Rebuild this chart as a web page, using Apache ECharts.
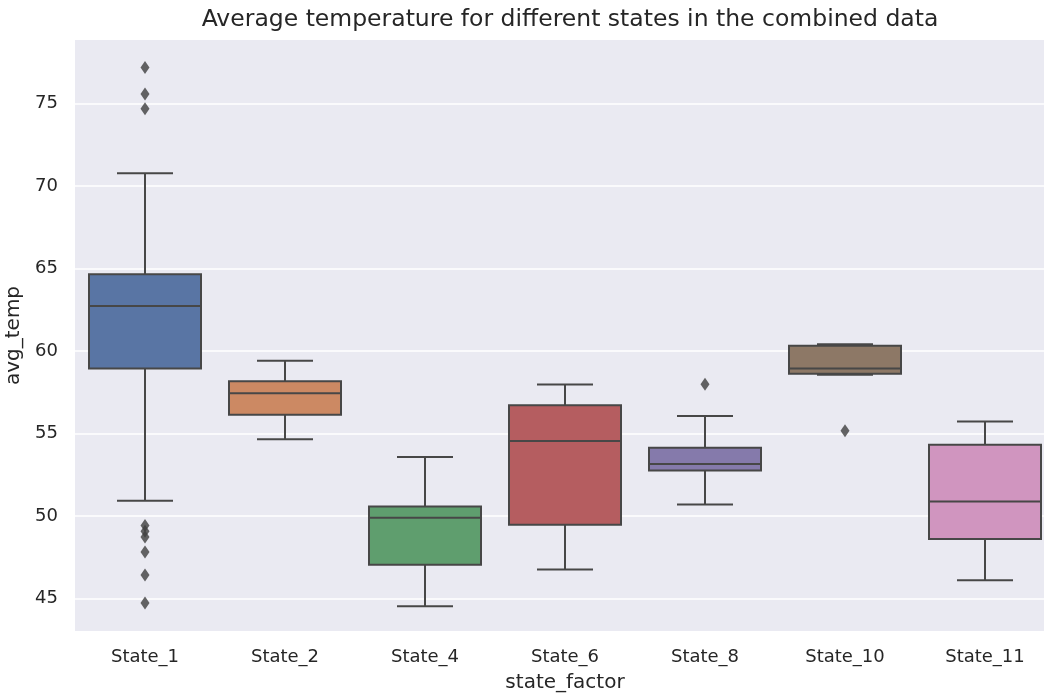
<!DOCTYPE html>
<html>
<head>
<meta charset="utf-8">
<title>Average temperature by state</title>
<script src="https://cdn.jsdelivr.net/npm/echarts@6/dist/echarts.min.js"></script>
<style>
  html, body { margin: 0; padding: 0; background: #ffffff; overflow: hidden; }
  #chart { width: 1044px; height: 693px; }
</style>
</head>
<body>
<div id="chart"></div>
<script>
// Box statistics per state (avg_temp)
const categories  = ['State_1', 'State_2', 'State_4', 'State_6', 'State_8', 'State_10', 'State_11'];
const whiskerLow  = [50.92, 54.65, 44.53, 46.76, 50.69, 58.55, 46.10];
const q1          = [58.93, 56.14, 47.04, 49.47, 52.75, 58.62, 48.60];
const median      = [62.72, 57.43, 49.89, 54.54, 53.15, 58.93, 50.87];
const q3          = [64.64, 58.16, 50.58, 56.71, 54.14, 60.32, 54.32];
const whiskerHigh = [70.76, 59.41, 53.57, 57.96, 56.05, 60.40, 55.73];

// Points beyond the whiskers, per state
const outliers = {
  State_1: [77.18, 75.57, 74.68, 49.42, 49.08, 48.72, 47.81, 46.42, 44.72],
  State_8: [57.98],
  State_10: [55.16]
};

const boxColors = ['#5975a4', '#cc8963', '#5f9e6e', '#b55d60', '#857aab', '#8d7866', '#d095bf'];
const edgeColor = '#474747';
const textColor = '#262626';

const boxData = categories.map((c, i) => [i, whiskerLow[i], q1[i], median[i], q3[i], whiskerHigh[i]]);
const outlierData = [];
Object.keys(outliers).forEach(name => {
  const idx = categories.indexOf(name);
  outliers[name].forEach(v => outlierData.push([idx, v]));
});

// Box with half-width whisker caps, placed through the axes' scales
function renderBox(params, api) {
  const i = api.value(0);
  const band = api.size([1, 0])[0];
  const halfW = band * 0.4;
  const capHalf = halfW / 2;
  const pLow = api.coord([i, api.value(1)]);
  const pQ1 = api.coord([i, api.value(2)]);
  const pMed = api.coord([i, api.value(3)]);
  const pQ3 = api.coord([i, api.value(4)]);
  const pHigh = api.coord([i, api.value(5)]);
  const cx = pQ1[0];
  const lineStyle = { stroke: edgeColor, lineWidth: 2, fill: null };
  return {
    type: 'group',
    children: [
      { type: 'line', shape: { x1: cx, y1: pLow[1], x2: cx, y2: pQ1[1] }, style: lineStyle },
      { type: 'line', shape: { x1: cx, y1: pQ3[1], x2: cx, y2: pHigh[1] }, style: lineStyle },
      { type: 'line', shape: { x1: cx - capHalf, y1: pLow[1], x2: cx + capHalf, y2: pLow[1] }, style: lineStyle },
      { type: 'line', shape: { x1: cx - capHalf, y1: pHigh[1], x2: cx + capHalf, y2: pHigh[1] }, style: lineStyle },
      {
        type: 'rect',
        shape: { x: cx - halfW, y: pQ3[1], width: halfW * 2, height: pQ1[1] - pQ3[1] },
        style: { fill: boxColors[i], stroke: edgeColor, lineWidth: 2 }
      },
      { type: 'line', shape: { x1: cx - halfW, y1: pMed[1], x2: cx + halfW, y2: pMed[1] }, style: lineStyle }
    ]
  };
}

const chart = echarts.init(document.getElementById('chart'), null, { renderer: 'canvas' });
chart.setOption({
  animation: false,
  backgroundColor: '#ffffff',
  textStyle: { fontFamily: 'DejaVu Sans' },
  title: {
    text: 'Average temperature for different states in the combined data',
    left: 565,
    textAlign: 'center',
    top: 3,
    textStyle: { fontFamily: 'DejaVu Sans', fontSize: 23.5, fontWeight: 'normal', color: textColor }
  },
  grid: {
    left: 75, right: -11, top: 40, bottom: 62,
    outerBoundsMode: 'none',
    containLabel: false,
    show: true, backgroundColor: '#eaeaf2', borderWidth: 0
  },
  xAxis: {
    type: 'category',
    data: categories,
    boundaryGap: true,
    name: 'state_factor',
    nameLocation: 'middle',
    nameGap: 42,
    nameTextStyle: { fontFamily: 'DejaVu Sans', fontSize: 20, color: textColor },
    axisLine: { show: false },
    axisTick: { show: false },
    splitLine: { show: false },
    axisLabel: { fontFamily: 'DejaVu Sans', fontSize: 18, color: textColor, margin: 17 }
  },
  yAxis: {
    type: 'value',
    min: 43.03,
    max: 78.84,
    splitNumber: 7,
    name: 'avg_temp',
    nameLocation: 'middle',
    nameRotate: 90,
    nameGap: 47,
    nameTextStyle: { fontFamily: 'DejaVu Sans', fontSize: 20, color: textColor },
    axisLine: { show: false },
    axisTick: { show: false },
    axisLabel: {
      fontFamily: 'DejaVu Sans', fontSize: 18, color: textColor, margin: 17,
      showMinLabel: false, showMaxLabel: false
    },
    splitLine: { show: true, showMinLine: false, showMaxLine: false, lineStyle: { color: '#ffffff', width: 1.5 } }
  },
  series: [
    {
      type: 'custom',
      renderItem: renderBox,
      data: boxData,
      encode: { x: 0, y: [1, 2, 3, 4, 5] },
      clip: true
    },
    {
      type: 'scatter',
      data: outlierData,
      symbol: 'diamond',
      symbolSize: [9, 13],
      itemStyle: { color: '#3f3f3f' },
      z: 3
    }
  ]
});
</script>
</body>
</html>
